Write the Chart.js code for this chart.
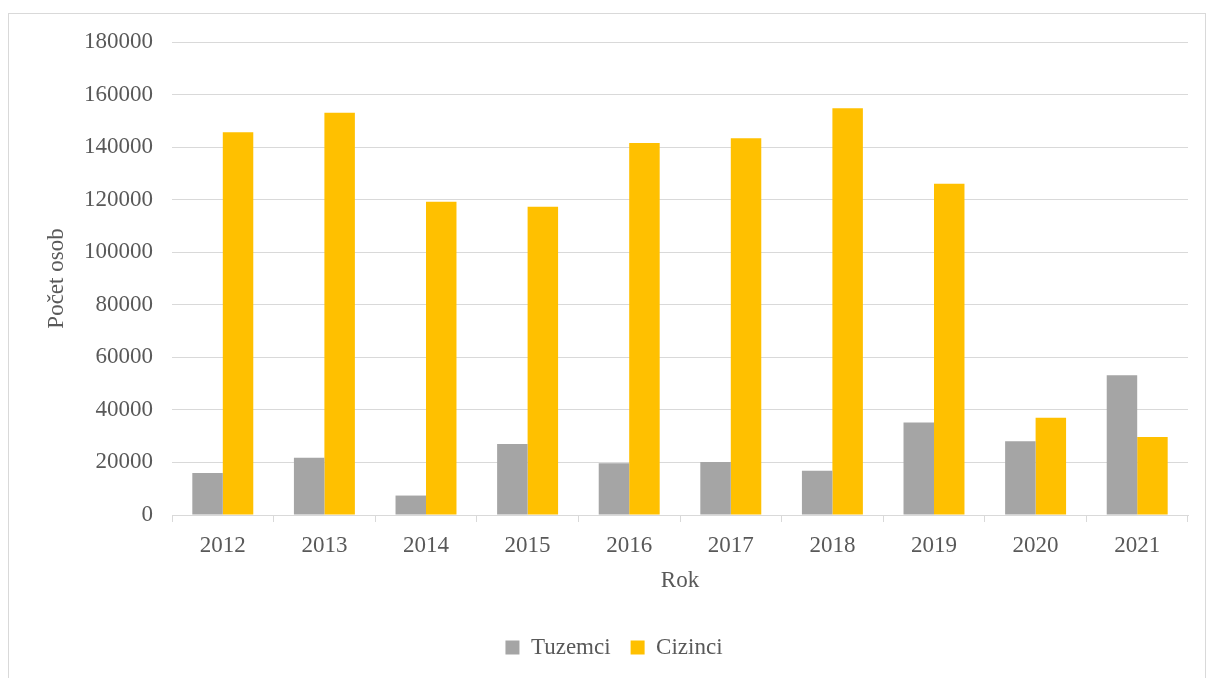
<!DOCTYPE html>
<html>
<head>
<meta charset="utf-8">
<script src="https://cdn.jsdelivr.net/npm/chart.js@4"></script>
<style>
  body { margin: 0; background: #fff; }
  #wrap { position: relative; width: 1208px; height: 678px; overflow: hidden; }
  #frame {
    position: absolute; left: 8px; top: 13px; width: 1198px; height: 700px;
    border: 1px solid #d9d9d9; box-sizing: border-box; pointer-events: none;
  }
  canvas { position: absolute; left: 0; top: 0; }
</style>
</head>
<body>
<div id="wrap">
  <canvas id="chart" width="1208" height="678"></canvas>
  <div id="frame"></div>
</div>
<script>
const years = ["2012", "2013", "2014", "2015", "2016", "2017", "2018", "2019", "2020", "2021"];
const tuzemci = [16000, 21800, 7400, 27000, 19700, 20200, 16800, 35200, 28100, 53200];
const cizinci = [145700, 153100, 119200, 117300, 141600, 143400, 154800, 126100, 37000, 29700];
const yMin = 0;
const yMax = 180000;
const yStep = 20000;

const textColor = "#595959";
const gridColor = "#d9d9d9";
const font = { family: "'Liberation Serif', 'Times New Roman', serif", size: 23 };

const ctx = document.getElementById("chart").getContext("2d");
new Chart(ctx, {
  type: "bar",
  data: {
    labels: years,
    datasets: [
      {
        label: "Tuzemci",
        data: tuzemci,
        backgroundColor: "#a5a5a5",
        borderWidth: 0,
      },
      {
        label: "Cizinci",
        data: cizinci,
        backgroundColor: "#ffc000",
        borderWidth: 0,
      },
    ],
  },
  options: {
    responsive: false,
    animation: false,
    devicePixelRatio: 1,
    datasets: {
      bar: {
        barPercentage: 1,
        categoryPercentage: 0.6,
      },
    },
    layout: {
      padding: { left: 40, right: 20, top: 42, bottom: 9 },
    },
    plugins: {
      tooltip: { enabled: false },
      legend: {
        position: "bottom",
        labels: {
          color: textColor,
          font: font,
          boxWidth: 14,
          boxHeight: 14,
          padding: 20,
        },
      },
    },
    scales: {
      x: {
        grid: {
          drawOnChartArea: false,
          drawTicks: true,
          tickLength: 7,
          color: gridColor,
        },
        border: { color: gridColor, width: 1 },
        ticks: { color: textColor, font: font, padding: 10 },
        title: {
          display: true,
          text: "Rok",
          color: textColor,
          font: font,
          padding: { top: 0, bottom: 21 },
        },
        afterFit: (scale) => {
          scale.height = 101;
        },
      },
      y: {
        min: yMin,
        max: yMax,
        grid: {
          color: gridColor,
          drawTicks: false,
        },
        border: { display: false },
        ticks: {
          stepSize: yStep,
          color: textColor,
          font: font,
          padding: 19,
          callback: (value) => String(value),
        },
        title: {
          display: true,
          text: "Počet osob",
          color: textColor,
          font: font,
          padding: { top: 3, bottom: 0 },
        },
        afterFit: (scale) => {
          scale.width = 132;
        },
      },
    },
  },
});
</script>
</body>
</html>
